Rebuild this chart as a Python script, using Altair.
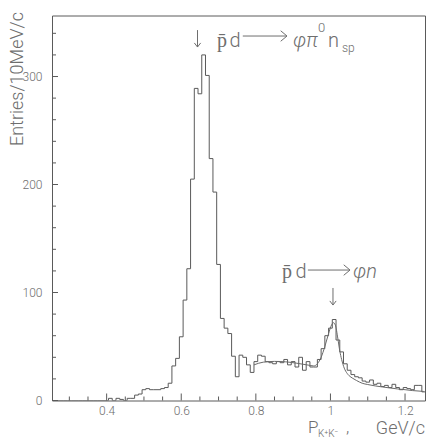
import altair as alt
import pandas as pd

# ---------------- data ----------------
bin_start = 0.26          # centre of first 10 MeV bin (GeV/c)
bin_width = 0.01
counts = [
    0, 0, 0, 0, 0, 0, 0, 0, 0, 0,          # 0.26 - 0.35
    0, 0, 0, 0, 0, 2, 0, 2, 1, 0,          # 0.36 - 0.45
    2, 2, 5, 6, 10, 11, 10, 10, 10, 11,    # 0.46 - 0.55
    12, 16, 32, 39, 59, 93, 122, 205, 289, 284,   # 0.56 - 0.65
    320, 301, 224, 193, 126, 76, 67, 62, 41, 22,  # 0.66 - 0.75
    42, 40, 33, 26, 36, 42, 41, 36, 35, 34,       # 0.76 - 0.85
    36, 35, 38, 33, 36, 31, 40, 28, 36, 31,       # 0.86 - 0.95
    31, 38, 48, 60, 67, 75, 56, 45, 34, 28,       # 0.96 - 1.05
    24, 22, 21, 18, 17, 19, 15, 16, 13, 14,       # 1.06 - 1.15
    12, 15, 12, 10, 12, 11, 10, 14, 14, 8,        # 1.16 - 1.25
]

fit_x = [0.795, 0.82, 0.85, 0.88, 0.91, 0.94, 0.955, 0.965, 0.975, 0.985,
         0.995, 1.003, 1.008, 1.013, 1.02, 1.025, 1.03, 1.037, 1.045, 1.05,
         1.06, 1.07, 1.085, 1.10, 1.12, 1.14, 1.16, 1.18, 1.20, 1.22, 1.25]
fit_y = [33, 35.5, 36.2, 35.8, 34.5, 32.8, 32, 34, 40, 50,
         62, 70, 72, 70, 57, 46, 38, 30, 25, 23,
         20.5, 18.5, 16, 14.8, 13.5, 12.5, 11.6, 10.7, 10, 9.2, 8.4]

x_major = [0.4, 0.6, 0.8, 1.0, 1.2]
x_minor = [0.3, 0.35, 0.45, 0.5, 0.55, 0.65, 0.7, 0.75, 0.85, 0.9, 0.95,
           1.05, 1.1, 1.15]
y_major = [0, 100, 200, 300]
y_minor = [20, 40, 60, 80, 120, 140, 160, 180, 220, 240, 260, 280, 320, 340]

# annotations: text, x (GeV/c), y (entries)
ann_left = pd.DataFrame({
    "t": ["p\u0304", "d", "n", "p\u0304", "d", "P", ","],
    "x": [0.696, 0.7295, 0.9934, 0.8701, 0.906, 0.9398, 1.0417],
    "y": [327.3, 327.3, 327.3, 113.4, 113.4, -30, -30],
    "s": [20, 20, 20, 20, 20, 17, 17],
})
ann_italic = pd.DataFrame({
    "t": ["\u03c6\u03c0", "\u03c6n"],
    "x": [0.8996, 1.0605],
    "y": [327.3, 113.4],
    "s": [20, 20],
})
ann_small = pd.DataFrame({
    "t": ["0", "sp", "K\u207aK\u207b"],
    "x": [0.9666, 1.031, 0.9666],
    "y": [341.5, 322.7, -33.5],
    "s": [13, 12, 10],
})
ann_right = pd.DataFrame({"t": ["GeV/c"], "x": [1.2535], "y": [-31], "s": [18]})

# reaction arrows "->": start x, end x, height (entries)
arrow_x1 = [0.765, 0.9395]
arrow_x2 = [0.8835, 1.0525]
arrow_y = [337.5, 120.8]
# peak markers (down arrows): x, top, tip (entries)
down_x = [0.6436, 1.0068]
down_top = [343.0, 104.2]
down_tip = [327.3, 88.4]

# ---------------- build ----------------
edges = [round(bin_start - bin_width / 2 + i * bin_width, 4) for i in range(len(counts))]
hist = pd.DataFrame({"x": edges + [edges[-1] + bin_width], "n": counts + [counts[-1]]})
fit = pd.DataFrame({"x": fit_x, "n": fit_y})
arrows = pd.DataFrame({"x1": arrow_x1, "x2": arrow_x2, "y": arrow_y})
downs = pd.DataFrame({"x": down_x, "y1": down_top, "y2": down_tip})

W, H = 373, 385
FONT = "Roboto"
GREY = "#5a5a5a"
TXT = "#6e6e6e"
xs = alt.Scale(domain=[0.2535, 1.2535], nice=False, zero=False)
ys = alt.Scale(domain=[0, 356.5], nice=False)

hist_layer = alt.Chart(hist).mark_line(
    interpolate="step-after", color=GREY, strokeWidth=1, clip=True
).encode(
    x=alt.X("x:Q", scale=xs, axis=alt.Axis(
        values=x_major, format="~g", ticks=False, domain=False, grid=False,
        labelPadding=5, labelFontSize=12, labelColor=TXT, labelFont=FONT,
        labelFontWeight=300, title=None)),
    y=alt.Y("n:Q", scale=ys, axis=alt.Axis(
        values=y_major, ticks=False, domain=False, grid=False,
        labelPadding=10, labelFontSize=12, labelColor=TXT, labelFont=FONT,
        labelFontWeight=300,
        title="Entries/10MeV/c", titleAngle=270, titleX=-34.5, titleY=-4,
        titleAlign="right", titleBaseline="middle", titleFontSize=18,
        titleFontWeight=300, titleFont=FONT, titleColor=TXT)),
)

fit_layer = alt.Chart(fit).mark_line(
    interpolate="monotone", color="#6a6a6a", strokeWidth=1, clip=True
).encode(x=alt.X("x:Q", scale=xs), y=alt.Y("n:Q", scale=ys))

xt_major = alt.Chart(pd.DataFrame({"x": x_major})).mark_rule(color=GREY).encode(
    x=alt.X("x:Q", scale=xs), y=alt.value(H), y2=alt.value(H - 7))
xt_minor = alt.Chart(pd.DataFrame({"x": x_minor})).mark_rule(color=GREY).encode(
    x=alt.X("x:Q", scale=xs), y=alt.value(H), y2=alt.value(H - 4))
yt_major = alt.Chart(pd.DataFrame({"y": y_major})).mark_rule(color=GREY).encode(
    y=alt.Y("y:Q", scale=ys), x=alt.value(0), x2=alt.value(6))
yt_minor = alt.Chart(pd.DataFrame({"y": y_minor})).mark_rule(color=GREY).encode(
    y=alt.Y("y:Q", scale=ys), x=alt.value(0), x2=alt.value(4))

arrow_shaft = alt.Chart(arrows).mark_rule(color=TXT, strokeWidth=1).encode(
    x=alt.X("x1:Q", scale=xs), x2="x2:Q", y=alt.Y("y:Q", scale=ys))
arrow_head = alt.Chart(arrows).mark_point(
    shape="M-1.2,-1L0,0L-1.2,1", filled=False, color=TXT, strokeWidth=1,
    size=110, opacity=1
).encode(x=alt.X("x2:Q", scale=xs), y=alt.Y("y:Q", scale=ys))

down_shaft = alt.Chart(downs).mark_rule(color=TXT, strokeWidth=1).encode(
    x=alt.X("x:Q", scale=xs), y=alt.Y("y1:Q", scale=ys), y2="y2:Q")
down_head = alt.Chart(downs).mark_point(
    shape="M-1,-1.3L0,0L1,-1.3", filled=False, color=TXT, strokeWidth=1,
    size=40, opacity=1
).encode(x=alt.X("x:Q", scale=xs), y=alt.Y("y2:Q", scale=ys))


def text_layer(df, align, style="normal", font=FONT, weight=300):
    return alt.Chart(df).mark_text(
        align=align, baseline="alphabetic", font=font, fontWeight=weight,
        fontStyle=style, color=TXT, clip=False
    ).encode(
        x=alt.X("x:Q", scale=xs), y=alt.Y("y:Q", scale=ys),
        text="t:N", size=alt.Size("s:Q", scale=None, legend=None))


chart = alt.layer(
    hist_layer, fit_layer, xt_major, xt_minor, yt_major, yt_minor,
    arrow_shaft, arrow_head, down_shaft, down_head,
    text_layer(ann_left, "left"),
    text_layer(ann_italic, "left", "italic"),
    text_layer(ann_small, "left"),
    text_layer(ann_right, "right"),
).properties(
    width=W, height=H,
    autosize=alt.AutoSizeParams(type="none"),
    padding={"left": 44, "top": 7.5, "right": 2, "bottom": 40},
).configure_view(stroke=GREY, strokeWidth=1)

chart.save("out.html", embed_options={"renderer": "svg", "actions": False})
